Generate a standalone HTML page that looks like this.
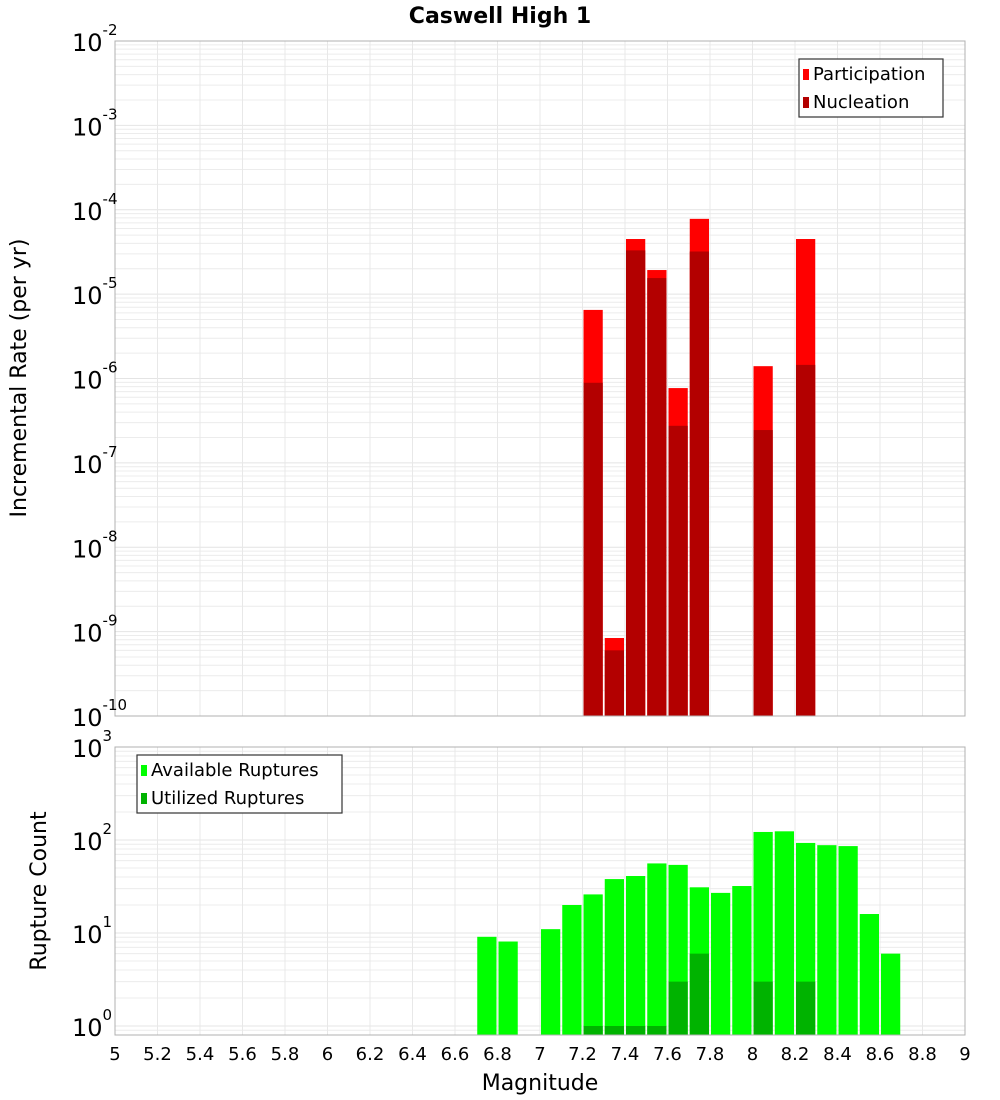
<!DOCTYPE html>
<html><head><meta charset="utf-8"><style>
body{margin:0;background:#fff;}
svg{display:block;font-family:"DejaVu Sans","Liberation Sans",sans-serif;}
</style></head><body>
<svg id="c" width="1000" height="1100" xmlns="http://www.w3.org/2000/svg">
<text x="500" y="23" text-anchor="middle" font-size="22" font-weight="bold">Caswell High 1</text>
<text transform="translate(26,378) rotate(-90)" text-anchor="middle" font-size="22">Incremental Rate (per yr)</text>
<text transform="translate(46,891) rotate(-90)" text-anchor="middle" font-size="22">Rupture Count</text>
<text x="540" y="1090" text-anchor="middle" font-size="22">Magnitude</text>
</svg>
<script>
const mags=[7.25,7.35,7.45,7.55,7.65,7.75,8.05,8.25];
const participation=[6.5e-6,8.4e-10,4.5e-5,1.93e-5,7.7e-7,7.8e-5,1.4e-6,4.5e-5];
const nucleation=[8.9e-7,6.0e-10,3.3e-5,1.55e-5,2.75e-7,3.2e-5,2.45e-7,1.45e-6];
const countMags=[6.75,6.85,7.05,7.15,7.25,7.35,7.45,7.55,7.65,7.75,7.85,7.95,8.05,8.15,8.25,8.35,8.45,8.55,8.65];
const available=[9.1,8.1,11,20,26,38,41,56,54,31,27,32,122,124,93,88,86,16,6];
const utilMags=[7.25,7.35,7.45,7.55,7.65,7.75,8.05,8.25];
const utilized=[1,1,1,1,3,6,3,3];
const xTicks=[5,5.2,5.4,5.6,5.8,6,6.2,6.4,6.6,6.8,7,7.2,7.4,7.6,7.8,8,8.2,8.4,8.6,8.8,9];
const topExps=[-2,-3,-4,-5,-6,-7,-8,-9,-10];
const botExps=[3,2,1,0];

const svg=document.getElementById('c');
const NS='http://www.w3.org/2000/svg';
function mk(tag,attrs,parent){const e=document.createElementNS(NS,tag);for(const k in attrs)e.setAttribute(k,attrs[k]);(parent||svg).appendChild(e);return e;}
const X0=115,X1=965;
const x=m=>X0+(m-5)*(X1-X0)/4;
const T0=41,T1=716;
const yTop=v=>T0+(-2-Math.log10(v))*(T1-T0)/8;
const B0=747,B1=1035,BD=93;
const yBot=v=>B0+(3-Math.log10(v))*BD;
const bw=0.1;

function panel(top,bot,yf,lo,hi,name){
  const g=mk('g',{});
  
  
  for(let e=lo;e<hi;e++)for(let k=1;k<10;k++){const yy=yf(k*Math.pow(10,e));if(yy>=top&&yy<=bot)mk('line',{x1:X0,x2:X1,y1:yy,y2:yy,stroke:k==1?'#e4e4e4':'#ececec','stroke-width':1},g);}
  xTicks.forEach(t=>{mk('line',{x1:x(t),x2:x(t),y1:top,y2:bot,stroke:'#e8e8e8','stroke-width':1},g);});
}
panel(T0,T1,yTop,-10,-2,'top');
panel(B0,B1,yBot,-1,3,'bottom');

function bars(ms,vs,yf,base,col,nm){
  ms.forEach((m,i)=>{
    const y=yf(vs[i]);
    const r=mk('rect',{x:x(m-bw/2)+1,y:y,width:x(m+bw/2)-x(m-bw/2)-2,height:base-y,fill:col});
    
    
  });
}
bars(mags,participation,yTop,T1,'#ff0000','participation');
bars(mags,nucleation,yTop,T1,'#b30000','nucleation');
bars(countMags,available,yBot,B1,'#00ff00','available');
bars(utilMags,utilized,yBot,B1,'#00b300','utilized');

const f1=mk('rect',{x:X0,y:T0,width:X1-X0,height:T1-T0,fill:'none',stroke:'#b0b0b0'});


const f2=mk('rect',{x:X0,y:B0,width:X1-X0,height:B1-B0,fill:'none',stroke:'#b0b0b0'});



function ylabel(yy,e,nm){
  const t=mk('text',{x:X0-4,y:yy+10,'text-anchor':'end','font-size':24});
  
  
  const s1=mk('tspan',{},t);s1.textContent='10';
  const s2=mk('tspan',{'font-size':15,dy:-16},t);s2.textContent=String(e);
  t.setAttribute('text-anchor','start');
  t.setAttribute('x',X0-43);
}
topExps.forEach(e=>ylabel(yTop(Math.pow(10,e)),e,'top-y-tick-label'));
botExps.forEach(e=>ylabel(yBot(Math.pow(10,e)),e,'bottom-y-tick-label'));
xTicks.forEach(t=>{
  const l=mk('text',{x:x(t),y:1060,'text-anchor':'middle','font-size':18});
  l.textContent=String(t);
  
  
});

function legend(bx,by,w,items,nm){
  const g=mk('g',{});
  
  
  mk('rect',{x:bx,y:by,width:w,height:58,fill:'#fff',stroke:'#333','stroke-width':1.2},g);
  items.forEach((it,i)=>{
    mk('rect',{x:bx+4,y:by+10+i*28,width:6,height:11,fill:it[1]},g);
    const t=mk('text',{x:bx+14,y:by+21+i*28,'font-size':18},g);t.textContent=it[0];
  });
}
legend(799,59,144,[['Participation','#ff0000'],['Nucleation','#b30000']],'top-legend');
legend(137,755,205,[['Available Ruptures','#00ff00'],['Utilized Ruptures','#00b300']],'bottom-legend');
</script>
</body></html>
